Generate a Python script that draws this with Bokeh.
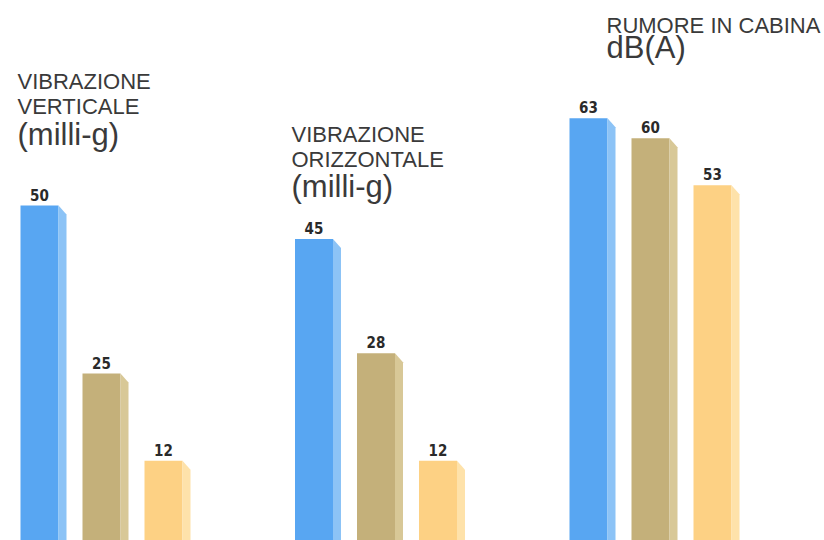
from bokeh.plotting import figure
from bokeh.models import Range1d, Label, ColumnDataSource
from bokeh.embed import file_html
from bokeh.resources import INLINE
from bokeh.core.properties import value

# ---------------- data ----------------
group_title_lines = [["VIBRAZIONE", "VERTICALE"],
                     ["VIBRAZIONE", "ORIZZONTALE"],
                     ["RUMORE IN CABINA"]]
group_units = ["(milli-g)", "(milli-g)", "dB(A)"]
series_blue = [50, 45, 63]
series_tan = [25, 28, 60]
series_orange = [12, 12, 53]

# ---------------- layout / style ----------------
W, H = 824, 540
PX = 6.72                      # pixels per value unit
Y0 = 1 / PX                    # value at bottom edge of frame
Y1 = Y0 + H / PX
GROUP_X0 = 20                  # x of first bar (x units = pixels)
GROUP_GAP = 274.5
STEP = 62
BAR_W = 38
SIDE_W = 8
SIDE_DROP = 9 / PX
LABEL_GAP = 11 / PX

front_colors = ["#58a6f2", "#c4b07a", "#fdd184"]
side_colors = ["#8cc3f6", "#d8c897", "#fee2aa"]
TEXT_COLOR = "#3a3a3a"

title_x_px = [17, 291, 606]
title_line_base_px = [[81, 106], [134, 159], [25]]
title_unit_base_px = [134, 186, 47]


def py_to_val(py):
    return Y0 + (H - py) / PX


p = figure(width=W, height=H, output_backend="svg", toolbar_location=None,
           x_range=Range1d(0, W), y_range=Range1d(Y0, Y1),
           min_border=0, min_border_left=0, min_border_right=0,
           min_border_top=0, min_border_bottom=0)
p.axis.visible = False
p.grid.visible = False
p.outline_line_color = None
p.background_fill_color = "white"
p.border_fill_color = "white"

series = [series_blue, series_tan, series_orange]
for si, vals in enumerate(series):
    lefts, rights, tops, xs, ys, cx, ly = [], [], [], [], [], [], []
    for gi, v in enumerate(vals):
        left = GROUP_X0 + gi * GROUP_GAP + si * STEP
        right = left + BAR_W
        lefts.append(left)
        rights.append(right)
        tops.append(v)
        cx.append((left + right) / 2)
        ly.append(v + LABEL_GAP)
        xs.append([right, right, right + SIDE_W, right + SIDE_W])
        ys.append([0, v, v - SIDE_DROP, 0])
    p.quad(left=lefts, right=rights, top=tops, bottom=0,
           fill_color=front_colors[si], line_color=None)
    p.patches(xs=xs, ys=ys, fill_color=side_colors[si], line_color=None)
    src = ColumnDataSource(dict(x=cx, y=ly, t=[str(v) for v in vals]))
    p.text(x="x", y="y", text="t", source=src, text_align="center",
           text_baseline="alphabetic",
           text_font=value("DejaVu Sans Condensed"), text_font_style="bold",
           text_font_size="15px", text_color="#2a2a2a")

for gi in range(3):
    x = title_x_px[gi]
    for li, line in enumerate(group_title_lines[gi]):
        p.add_layout(Label(x=x, y=py_to_val(title_line_base_px[gi][li]), text=line,
                           text_font="Liberation Sans", text_font_size="22px",
                           text_color=TEXT_COLOR, text_baseline="alphabetic"))
    p.add_layout(Label(x=x, y=py_to_val(title_unit_base_px[gi]), text=group_units[gi],
                       text_font="Liberation Sans", text_font_size="31px",
                       text_color=TEXT_COLOR, text_baseline="alphabetic"))

open("out.html", "w").write(file_html(p, INLINE))
